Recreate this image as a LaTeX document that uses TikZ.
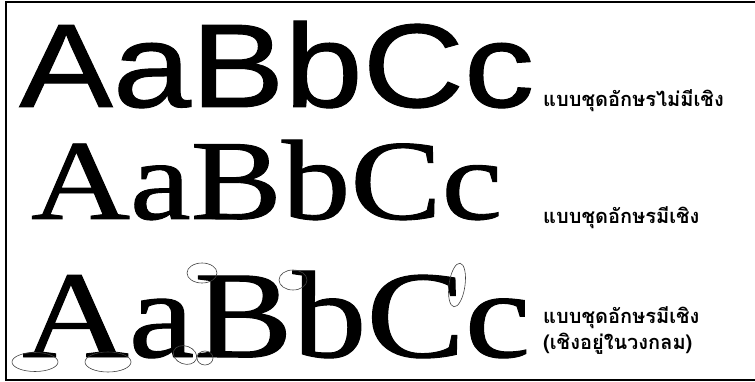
\documentclass[tikz,border=0pt]{standalone}
\usepackage{fontspec}
\setmainfont{Liberation Serif}
\newfontfamily\sansfnt[FakeBold=0.8]{Liberation Sans}
\newfontfamily\seriffnt[FakeBold=0.8]{Liberation Serif}
\newfontfamily\thaifont[Script=Thai]{Loma}
\usepackage{graphicx}
\begin{document}
\begin{tikzpicture}[x=1pt, y=-1pt, every node/.style={inner sep=0pt, anchor=base west},
  serifmark/.style={draw=black!75, line width=0.6pt},
  thailabel/.style={font=\thaifont\bfseries\fontsize{20}{26}\selectfont, align=left}]
\useasboundingbox (0,0) rectangle (755,382);
\draw[line width=1.2pt] (756,2) -- (6,2) -- (6,380) -- (756,380);
% three rows of sample letters
\node (sans) at (19,107) {\sansfnt\fontsize{119}{119}\selectfont\scalebox{1.18}[1]{AaBbCc}};
\node (serif) at (31,219) {\seriffnt\fontsize{114}{114}\selectfont\scalebox{1.2}[1]{AaBbCc}};
\node (serifmarked) at (22,357) {\seriffnt\fontsize{124}{124}\selectfont\scalebox{1.19}[1]{AaBbCc}};
\node[thailabel] (sanslabel) at (543,107) {แบบชุดอักษรไม่มีเชิง};
\node[thailabel] (seriflabel) at (543,224) {แบบชุดอักษรมีเชิง};
\node[thailabel, anchor=west] (markedlabel) at (543,330) {แบบชุดอักษรมีเชิง\\(เชิงอยู่ในวงกลม)};
% circled serifs
\foreach \cx/\cy/\rx/\ry in {35/362/23/9.5, 108/362/23/10, 205/358/8/7, 202/273/15/10, 293/280/14/10}
  \draw[serifmark] (\cx,\cy) ellipse [x radius=\rx, y radius=\ry];
\draw[serifmark, rotate around={-20:(185,355)}] (185,355) ellipse [x radius=12, y radius=9];
\draw[serifmark, rotate around={-8:(457,285)}] (457,285) ellipse [x radius=8, y radius=22];
\end{tikzpicture}
\end{document}
